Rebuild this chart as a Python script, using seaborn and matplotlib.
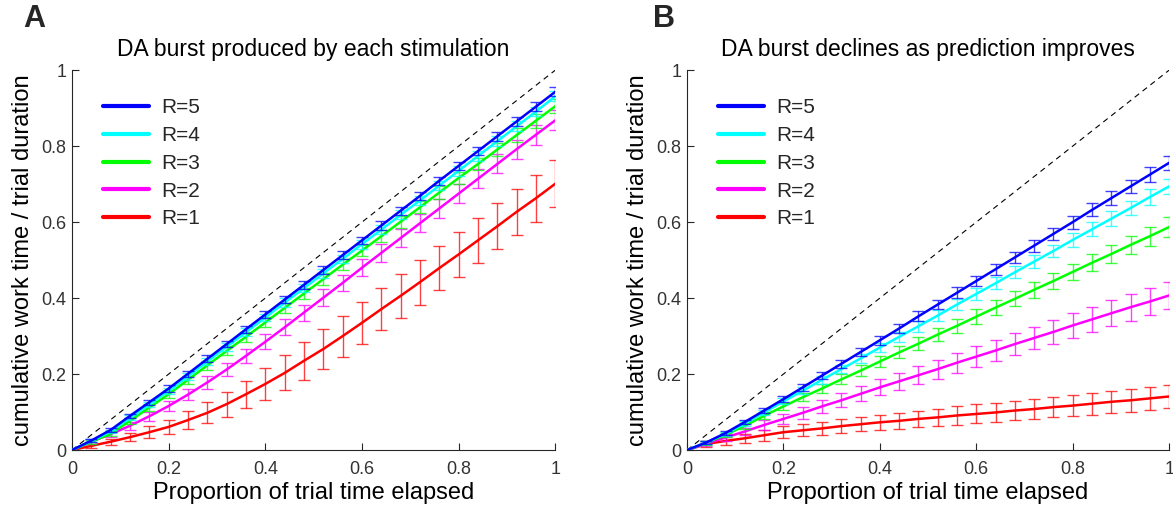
import numpy as np
import pandas as pd
import matplotlib
matplotlib.use("Agg")
import matplotlib.pyplot as plt
from matplotlib.lines import Line2D
import seaborn as sns

# ---------------- data ----------------
x = [0.00, 0.04, 0.08, 0.12, 0.16, 0.20, 0.24, 0.28, 0.32, 0.36, 0.40, 0.44, 0.48,
     0.52, 0.56, 0.60, 0.64, 0.68, 0.72, 0.76, 0.80, 0.84, 0.88, 0.92, 0.96, 1.00]

labels = ["R=5", "R=4", "R=3", "R=2", "R=1"]
colors = ["#0000ff", "#00ffff", "#00ff00", "#ff00ff", "#ff0000"]

# Panel A : DA burst produced by each stimulation
a_r5 = [0, 0.025, 0.053, 0.090, 0.126, 0.162, 0.201, 0.240, 0.279, 0.318, 0.357, 0.396, 0.435,
        0.474, 0.513, 0.552, 0.591, 0.630, 0.669, 0.709, 0.748, 0.787, 0.826, 0.865, 0.904, 0.943]
a_r4 = [0, 0.024, 0.049, 0.085, 0.120, 0.156, 0.194, 0.233, 0.272, 0.310, 0.349, 0.388, 0.426,
        0.465, 0.503, 0.542, 0.580, 0.619, 0.657, 0.696, 0.735, 0.774, 0.813, 0.852, 0.891, 0.931]
a_r3 = [0, 0.022, 0.043, 0.077, 0.112, 0.147, 0.185, 0.223, 0.261, 0.298, 0.336, 0.374, 0.412,
        0.450, 0.488, 0.525, 0.563, 0.601, 0.639, 0.678, 0.716, 0.753, 0.791, 0.829, 0.867, 0.905]
a_r2 = [0, 0.022, 0.042, 0.064, 0.089, 0.116, 0.146, 0.178, 0.212, 0.248, 0.285, 0.323, 0.362,
        0.401, 0.440, 0.480, 0.519, 0.558, 0.597, 0.636, 0.675, 0.714, 0.753, 0.792, 0.830, 0.868]
a_r1 = [0, 0.011, 0.022, 0.034, 0.047, 0.061, 0.079, 0.098, 0.121, 0.147, 0.174, 0.203, 0.235,
        0.266, 0.300, 0.335, 0.371, 0.406, 0.442, 0.479, 0.515, 0.552, 0.589, 0.627, 0.663, 0.701]

a_e5 = [0, .004, .005, .006, .007, .008, .008, .009, .009, .009, .010, .010, .010,
        .010, .010, .010, .011, .011, .011, .011, .011, .011, .012, .012, .012, .012]
a_e4 = [0, .004, .005, .006, .007, .008, .009, .009, .010, .010, .010, .011, .011,
        .011, .011, .012, .012, .012, .012, .012, .013, .013, .013, .013, .013, .013]
a_e3 = [0, .005, .006, .008, .009, .010, .011, .012, .012, .013, .013, .014, .014,
        .015, .015, .015, .016, .016, .016, .017, .017, .017, .018, .018, .018, .018]
a_e2 = [0, .006, .008, .010, .012, .014, .015, .017, .018, .019, .020, .021, .021,
        .022, .022, .023, .023, .024, .024, .024, .025, .025, .025, .025, .026, .026]
a_e1 = [0, .006, .008, .010, .015, .018, .023, .028, .033, .036, .042, .046, .050,
        .053, .054, .055, .056, .058, .059, .058, .059, .060, .060, .061, .0615, .0615]

# Panel B : DA burst declines as prediction improves
b_r5 = [0, 0.020, 0.045, 0.074, 0.104, 0.134, 0.165, 0.196, 0.227, 0.258, 0.289, 0.320, 0.352,
        0.383, 0.414, 0.445, 0.476, 0.507, 0.538, 0.569, 0.600, 0.632, 0.663, 0.694, 0.725, 0.756]
b_r4 = [0, 0.020, 0.043, 0.070, 0.099, 0.128, 0.156, 0.185, 0.213, 0.241, 0.270, 0.298, 0.326,
        0.354, 0.383, 0.411, 0.439, 0.468, 0.496, 0.524, 0.553, 0.581, 0.609, 0.637, 0.666, 0.694]
b_r3 = [0, 0.019, 0.040, 0.064, 0.090, 0.115, 0.139, 0.162, 0.186, 0.209, 0.233, 0.257, 0.280,
        0.304, 0.327, 0.351, 0.375, 0.398, 0.422, 0.445, 0.469, 0.493, 0.516, 0.540, 0.563, 0.587]
b_r2 = [0, 0.017, 0.033, 0.049, 0.066, 0.082, 0.098, 0.115, 0.131, 0.148, 0.165, 0.181, 0.197,
        0.213, 0.230, 0.246, 0.262, 0.279, 0.295, 0.311, 0.328, 0.344, 0.360, 0.376, 0.391, 0.407]
b_r1 = [0, 0.016, 0.024, 0.031, 0.039, 0.047, 0.052, 0.057, 0.063, 0.068, 0.073, 0.077, 0.082,
        0.086, 0.091, 0.095, 0.099, 0.104, 0.108, 0.113, 0.117, 0.122, 0.127, 0.131, 0.136, 0.141]

b_e5 = [0, .004, .005, .006, .007, .008, .009, .010, .010, .011, .012, .012, .013,
        .013, .014, .014, .015, .015, .016, .016, .017, .017, .018, .018, .019, .019]
b_e4 = [0, .004, .005, .006, .007, .008, .009, .010, .011, .012, .012, .013, .014,
        .014, .015, .015, .016, .016, .017, .017, .018, .018, .019, .019, .020, .020]
b_e3 = [0, .005, .006, .008, .009, .010, .011, .012, .013, .014, .015, .016, .017,
        .017, .018, .019, .020, .020, .021, .022, .022, .023, .024, .024, .025, .026]
b_e2 = [0, .006, .008, .010, .012, .014, .016, .017, .019, .020, .021, .023, .024,
        .025, .026, .027, .028, .029, .030, .031, .032, .033, .034, .035, .035, .036]
b_e1 = [0, .008, .010, .012, .014, .015, .016, .017, .018, .019, .020, .021, .022,
        .023, .024, .025, .025, .026, .027, .027, .028, .029, .029, .030, .030, .031]

ticks = [0, 0.2, 0.4, 0.6, 0.8, 1]
tick_labels = ["0", "0.2", "0.4", "0.6", "0.8", "1"]

titles = ["DA burst produced by each stimulation", "DA burst declines as prediction improves"]
panel_letters = ["A", "B"]
xlabel = "Proportion of trial time elapsed"
ylabel = "cumulative work time / trial duration"

panels = [
    ([a_r5, a_r4, a_r3, a_r2, a_r1], [a_e5, a_e4, a_e3, a_e2, a_e1]),
    ([b_r5, b_r4, b_r3, b_r2, b_r1], [b_e5, b_e4, b_e3, b_e2, b_e1]),
]

# ---------------- style ----------------
sns.set_theme(style="ticks")
plt.rcParams["font.family"] = ["Liberation Sans", "DejaVu Sans"]
axis_col = "#262626"
tick_txt = "#333333"

fig = plt.figure(figsize=(11.73, 5.12), dpi=100)
positions = [[0.0614, 0.121, 0.412, 0.742], [0.5857, 0.121, 0.411, 0.742]]
letter_x = [0.020, 0.557]

for p, (series, errs) in enumerate(panels):
    ax = fig.add_axes(positions[p])
    ax.plot([0, 1], [0, 1], color="black", lw=0.8, ls=(0, (5, 4)), zorder=1)
    # draw R=1 first so R=5 ends on top
    for i in reversed(range(5)):
        df = pd.DataFrame({"x": x, "y": series[i]})
        sns.lineplot(data=df, x="x", y="y", color=colors[i], lw=1.8,
                     estimator=None, sort=False, ax=ax, zorder=3 + (5 - i))
        ax.errorbar(x[1:], series[i][1:], yerr=errs[i][1:], fmt="none",
                    ecolor=colors[i], alpha=0.75, elinewidth=1.0, capsize=4.3,
                    capthick=1.0, zorder=2 + (5 - i))
    ax.set_xlim(0, 1)
    ax.set_ylim(0, 1)
    ax.set_xticks(ticks)
    ax.set_xticklabels(tick_labels)
    ax.set_yticks(ticks)
    ax.set_yticklabels(tick_labels)
    ax.tick_params(direction="in", length=5, width=0.8, colors=axis_col,
                   labelsize=13, labelcolor=tick_txt)
    ax.tick_params(axis="x", pad=8)
    ax.tick_params(axis="y", pad=4)
    for s in ["top", "right"]:
        ax.spines[s].set_visible(False)
    for s in ["left", "bottom"]:
        ax.spines[s].set_color(axis_col)
        ax.spines[s].set_linewidth(0.8)
    ax.set_xlabel(xlabel, fontsize=17, color="black", labelpad=3)
    ax.set_ylabel(ylabel, fontsize=17, color="black", labelpad=5)
    ax.set_title(titles[p], fontsize=16.5, color="black", pad=10)
    handles = [Line2D([0], [0], color=c, lw=3) for c in colors]
    ax.legend(handles, labels, loc="upper left", bbox_to_anchor=(0.025, 0.975),
              frameon=False, fontsize=15, handlelength=2.2, handletextpad=0.6,
              labelspacing=0.42)
    fig.text(letter_x[p], 0.962, panel_letters[p], fontsize=22,
             fontweight="bold", ha="left", va="center")

fig.savefig("out.png", dpi=100)
